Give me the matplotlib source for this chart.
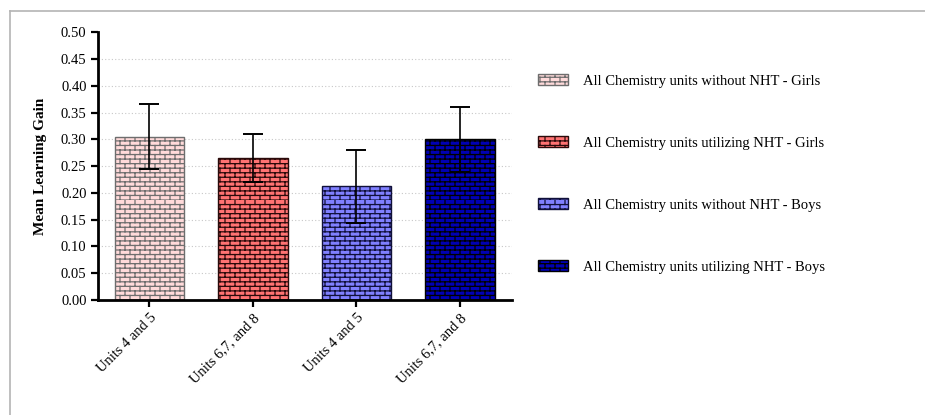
import warnings
import numpy as np
import matplotlib
matplotlib.use("Agg")
import matplotlib.pyplot as plt
from matplotlib import hatch as mhatch
from matplotlib.path import Path
from matplotlib.lines import Line2D

warnings.filterwarnings("ignore", message=".*hatch must consist.*")

# Data
categories = ["Units 4 and 5", "Units 6,7, and 8", "Units 4 and 5", "Units 6,7, and 8"]
series_labels = [
    "All Chemistry units without NHT - Girls",
    "All Chemistry units utilizing NHT - Girls",
    "All Chemistry units without NHT - Boys",
    "All Chemistry units utilizing NHT - Boys",
]
means = [0.305, 0.265, 0.212, 0.300]
errors = [0.061, 0.045, 0.069, 0.061]
y_ticks = [0.00, 0.05, 0.10, 0.15, 0.20, 0.25, 0.30, 0.35, 0.40, 0.45, 0.50]

fill_colors = ["#FFDADA", "#FF7373", "#8080FF", "#0000B4"]
mortar_colors = ["#6E6E6E", "#2A0A0A", "#10103A", "#000000"]


class BrickHatch(mhatch.HatchPatternBase):
    """Brick pattern for the 'b' hatch character."""

    def __init__(self, hatch, density):
        n = hatch.count("b")
        self.rows = 11 * n * 2 if n else 0
        self.cols = 10
        # each row: one horizontal line + cols vertical joints, 2 vertices each
        self.num_vertices = self.rows * (1 + self.cols) * 2

    def set_vertices_and_codes(self, vertices, codes):
        k = 0
        h = 1.0 / self.rows
        for i in range(self.rows):
            y = i * h
            vertices[k] = (0, y)
            vertices[k + 1] = (1, y)
            codes[k] = Path.MOVETO
            codes[k + 1] = Path.LINETO
            k += 2
            shift = 0.5 if i % 2 else 0.0
            for j in range(self.cols):
                x = (j + shift) / self.cols
                vertices[k] = (x, y)
                vertices[k + 1] = (x, y + h)
                codes[k] = Path.MOVETO
                codes[k + 1] = Path.LINETO
                k += 2


mhatch._hatch_types.append(BrickHatch)

plt.rcParams["font.family"] = ["Liberation Serif", "DejaVu Serif"]
plt.rcParams["hatch.linewidth"] = 0.9

fig = plt.figure(figsize=(9.25, 4.15), dpi=100)
ax = fig.add_axes([0.1056, 0.2771, 0.4476, 0.6451])

x = np.arange(len(categories))
bars = ax.bar(x, means, width=0.67, color=fill_colors, edgecolor=mortar_colors,
              linewidth=1.0, hatch="b", zorder=2)
for b, lab in zip(bars, series_labels):
    b.set_label(lab)
ax.errorbar(x, means, yerr=errors, fmt="none", ecolor="black", elinewidth=1.2,
            capsize=7, capthick=1.4, zorder=3)

ax.set_xlim(-0.5, 3.5)
ax.set_ylim(0, 0.5)
ax.set_yticks(y_ticks)
ax.set_yticklabels([f"{v:.2f}" for v in y_ticks], fontsize=10.5)
ax.set_xticks(x)
ax.set_xticklabels(categories, rotation=45, ha="right", va="top",
                   rotation_mode="anchor", fontsize=10.5)
for lbl in ax.get_xticklabels():
    lbl.set_x(lbl.get_position()[0])

ax.yaxis.grid(True, linestyle=(0, (1, 2)), color="#C8C8C8", linewidth=0.8)
ax.set_axisbelow(True)
# no grid line at the top of the scale
ax.yaxis.get_gridlines()[-1].set_visible(False)

for side in ["top", "right"]:
    ax.spines[side].set_visible(False)
for side in ["left", "bottom"]:
    ax.spines[side].set_linewidth(2.0)
ax.tick_params(axis="both", direction="out", length=5, width=1.6, pad=3)

ax.set_ylabel("Mean Learning Gain", fontsize=11, fontweight="bold")
ax.yaxis.set_label_coords(-0.122, 0.5)

leg = fig.legend(handles=list(bars), loc="upper left",
                 bbox_to_anchor=(538 / 925, 1 - 74 / 415), frameon=False,
                 fontsize=10.5, handlelength=2.05, handleheight=0.8,
                 handletextpad=1.05, labelspacing=3.32, borderpad=0,
                 borderaxespad=0)

# light grey frame around the figure
fig.add_artist(Line2D([10 / 925, 1], [1 - 11 / 415] * 2, color="#B4B4B4",
                      linewidth=1.2, transform=fig.transFigure))
fig.add_artist(Line2D([10 / 925] * 2, [0, 1 - 11 / 415], color="#B4B4B4",
                      linewidth=1.2, transform=fig.transFigure))

fig.savefig("out.png", dpi=100)
